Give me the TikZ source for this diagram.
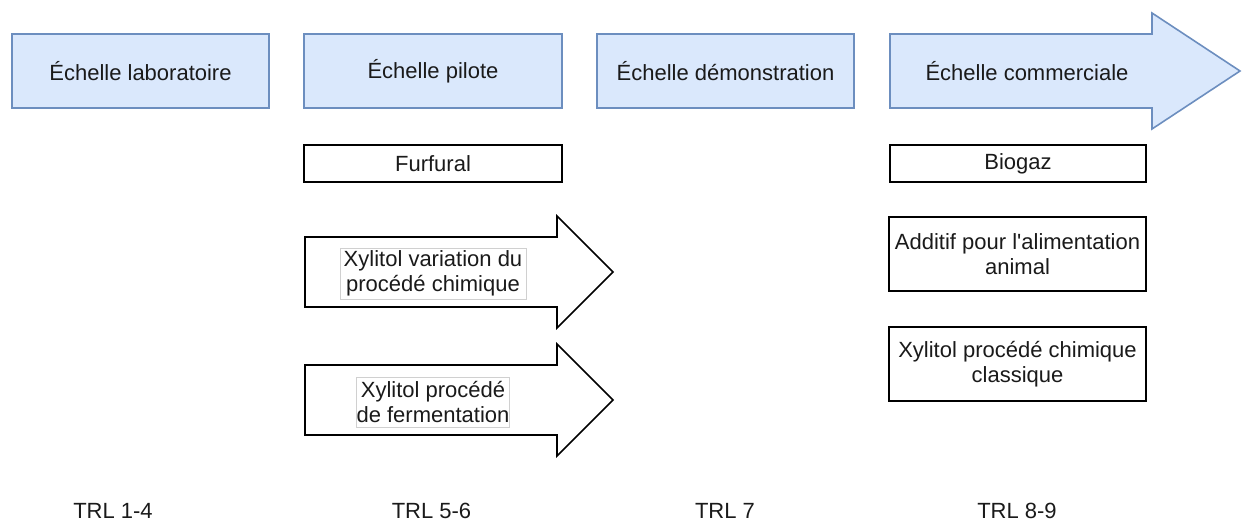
\documentclass[tikz,border=0pt]{standalone}
\usepackage{fontspec}
\setmainfont{Liberation Sans}[Ligatures=TeXOff]
\definecolor{scaleline}{HTML}{6C8EBF}
\definecolor{scalefill}{HTML}{DAE8FC}
\definecolor{ink}{HTML}{1A1A1A}
\definecolor{labelline}{HTML}{D0D0D0}
\begin{document}
\begin{tikzpicture}[x=1pt,y=-1pt,
  txt/.style={font=\fontsize{22}{25}\selectfont, text=ink, align=center},
  scalebox/.style={txt, draw=scaleline, fill=scalefill, line width=1.5pt,
    minimum height=74pt, inner sep=0pt},
  itembox/.style={txt, draw=black, fill=white, line width=1.6pt, inner sep=0pt},
  arrowshape/.style={line width=1.6pt, line join=miter},
  tag/.style={txt, draw=labelline, fill=white, line width=0.8pt, inner sep=0pt},
  trl/.style={txt, anchor=base}]
\useasboundingbox (0,0) rectangle (1242,521);

% scale-up stages
\node[scalebox, minimum width=257pt] (lab)  at (140.5,71) {Échelle laboratoire};
\node[scalebox, minimum width=258pt] (pilot) at (433,71) {Échelle pilote};
\node[scalebox, minimum width=257pt] (demo) at (725.5,71) {Échelle démonstration};
\draw[arrowshape, draw=scaleline, fill=scalefill]
  (890,34) -- (1152,34) -- (1152,13) -- (1240,71) -- (1152,129) -- (1152,108)
  -- (890,108) -- cycle;
\node[txt] (comm) at (1027,71) {Échelle commerciale};

% products at pilot scale
\node[itembox, minimum width=258pt, minimum height=37pt] (furfural) at (433,163.5) {Furfural};
\draw[arrowshape, draw=black, fill=white]
  (305,237) -- (557,237) -- (557,216) -- (613,272) -- (557,328) -- (557,307)
  -- (305,307) -- cycle;
\node[tag, minimum width=186pt, minimum height=51pt] (xylvar) at (433,273.5)
  {Xylitol variation du\\procédé chimique};
\draw[arrowshape, draw=black, fill=white]
  (305,365) -- (557,365) -- (557,344) -- (613,400) -- (557,456) -- (557,435)
  -- (305,435) -- cycle;
\node[tag, minimum width=150pt, minimum height=50pt] (xylferm) at (433,402)
  {Xylitol procédé\\de fermentation};

% products at commercial scale
\node[itembox, minimum width=256pt, minimum height=37pt] (biogaz) at (1018,163.5) {Biogaz};
\node[itembox, minimum width=257pt, minimum height=74pt] (additif) at (1017.5,254)
  {Additif pour l'alimentation\\animal};
\node[itembox, minimum width=257pt, minimum height=74pt] (xylclass) at (1017.5,364)
  {Xylitol procédé chimique\\classique};

% readiness levels
\node[trl] (trl1) at (113,518) {TRL 1-4};
\node[trl] (trl2) at (431.5,518) {TRL 5-6};
\node[trl] (trl3) at (725,518) {TRL 7};
\node[trl] (trl4) at (1017,518) {TRL 8-9};
\end{tikzpicture}
\end{document}
